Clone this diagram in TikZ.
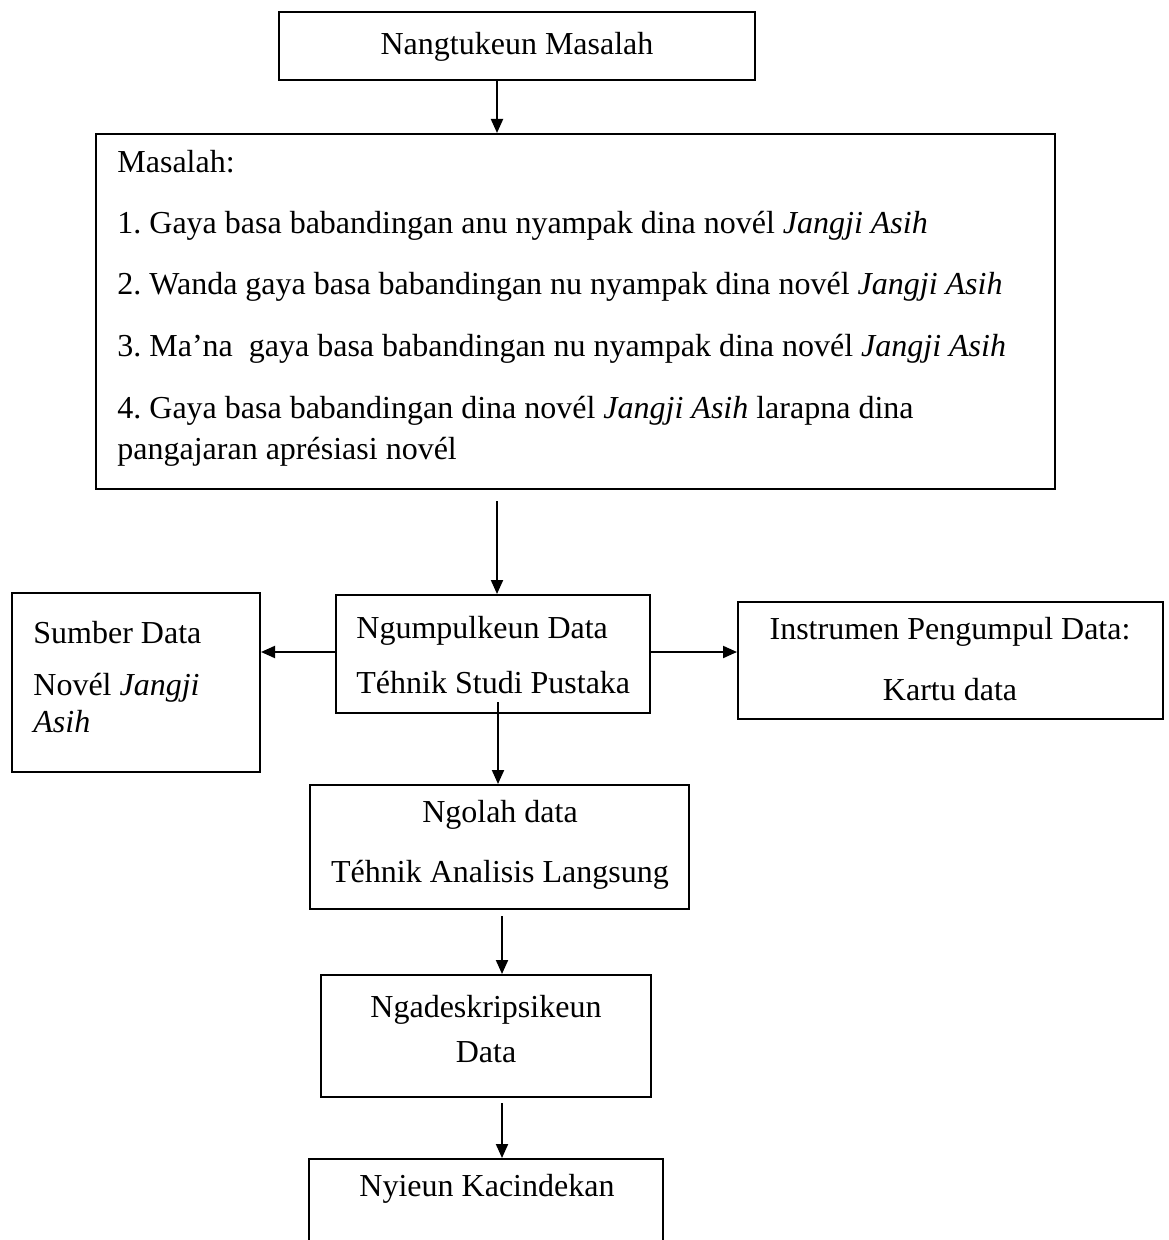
\documentclass[tikz,border=0pt]{standalone}
\usepackage{fontspec}
\setmainfont{Liberation Serif}
\usetikzlibrary{arrows.meta}
\frenchspacing
\begin{document}
\begin{tikzpicture}[x=0.5pt,y=-0.5pt,
  box/.style={draw,line width=1pt,inner sep=0pt},
  txt/.style={inner sep=0pt,font=\fontsize{16pt}{19pt}\selectfont},
  arr/.style={line width=1pt,-{Triangle[length=7pt,width=6pt]}}]
\useasboundingbox (0,0) rectangle (1168,1240);
\node [box,line width=1.4pt,minimum width=238pt,minimum height=34pt] (tangtu) at (517,46) {};
\node [box,minimum width=479.5pt,minimum height=177.5pt] (masalah) at (575.5,311.5) {};
\node [box,minimum width=157pt,minimum height=59pt] (kumpul) at (493,654) {};
\node [box,minimum width=124pt,minimum height=89.5pt] (sumber) at (136,682.5) {};
\node [box,minimum width=212.5pt,minimum height=58.5pt] (instrumen) at (950.5,660.5) {};
\node [box,minimum width=189.5pt,minimum height=62pt] (olah) at (499.5,847) {};
\node [box,minimum width=165pt,minimum height=61pt] (deskrip) at (486,1036) {};
\node [box,minimum width=177pt,minimum height=50.5pt] (cindek) at (486,1209.5) {};
\node [txt,anchor=base] at (517,55) {Nangtukeun Masalah};
\node [txt,anchor=base west] at (117,173) {Masalah:};
\node [txt,anchor=base west] at (117,234) {1. Gaya basa babandingan anu nyampak dina novél \textit{Jangji Asih}};
\node [txt,anchor=base west] at (117,295) {2. Wanda gaya basa babandingan nu nyampak dina novél \textit{Jangji Asih}};
\node [txt,anchor=base west] at (117,357) {3. Ma’na\ \ gaya basa babandingan nu nyampak dina novél \textit{Jangji Asih}};
\node [txt,anchor=base west] at (117,418) {4. Gaya basa babandingan dina novél \textit{Jangji Asih} larapna dina};
\node [txt,anchor=base west] at (117,459) {pangajaran aprésiasi novél};
\node [txt,anchor=base west] at (356,638) {Ngumpulkeun Data};
\node [txt,anchor=base west] at (356,693) {Téhnik Studi Pustaka};
\node [txt,anchor=base west] at (33,643) {Sumber Data};
\node [txt,anchor=base west] at (33,695) {Novél \textit{Jangji}};
\node [txt,anchor=base west] at (33,732) {\textit{Asih}};
\node [txt,anchor=base] at (950,639) {Instrumen Pengumpul Data:};
\node [txt,anchor=base] at (950,700) {Kartu data};
\node [txt,anchor=base] at (500,822) {Ngolah data};
\node [txt,anchor=base] at (500,882) {Téhnik Analisis Langsung};
\node [txt,anchor=base] at (486,1017) {Ngadeskripsikeun};
\node [txt,anchor=base] at (486,1062) {Data};
\node [txt,anchor=base] at (487,1196) {Nyieun Kacindekan};
\coordinate (s1) at (497,0);
\coordinate (s2) at (497,501);
\coordinate (s3) at (498,702);
\coordinate (s4) at (502,916);
\coordinate (s5) at (502,1103);
\coordinate (sy) at (0,652);
\draw [arr] (tangtu.south -| s1) -- (masalah.north -| s1);
\draw [arr] (s2) -- (kumpul.north -| s2);
\draw [arr] (kumpul.west |- sy) -- (sumber.east |- sy);
\draw [arr] (kumpul.east |- sy) -- (instrumen.west |- sy);
\draw [arr] (s3) -- (olah.north -| s3);
\draw [arr] (s4) -- (deskrip.north -| s4);
\draw [arr] (s5) -- (cindek.north -| s5);
\end{tikzpicture}
\end{document}
